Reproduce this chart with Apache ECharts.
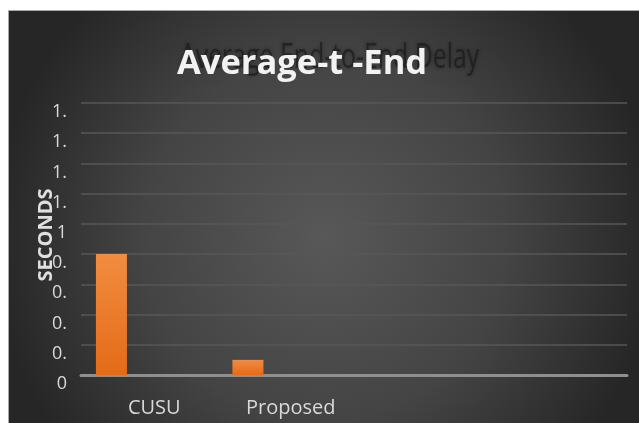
<!DOCTYPE html>
<html>
<head>
<meta charset="utf-8">
<script src="https://cdn.jsdelivr.net/npm/echarts@6/dist/echarts.min.js"></script>
<style>
html,body{margin:0;padding:0;background:#fff;}
#main{width:639px;height:423px;}
</style>
</head>
<body>
<div id="main"></div>
<script>
// ---- data ----
var categories = ['CUSU', 'Proposed', '', ''];
var delaySeries = [0.8, 0.1, null, null];
var emptySeriesA = [null, null, null, null];
var emptySeriesB = [null, null, null, null];
var yTickLabels = ['0', '0.', '0.', '0.', '0.', '1', '1.', '1.', '1.', '1.'];
var titleText = 'Average-t -End';
var ghostTitleText = 'Average End-to-End Delay';
var yAxisName = 'SECONDS';

var chart = echarts.init(document.getElementById('main'), null, {renderer: 'canvas'});

var barStyle = {
  color: {
    type: 'linear', x: 0, y: 0, x2: 0, y2: 1,
    colorStops: [
      {offset: 0, color: '#f28c40'},
      {offset: 1, color: '#e46b18'}
    ]
  }
};

var option = {
  backgroundColor: '#ffffff',
  animation: false,
  title: {
    text: titleText,
    left: 177,
    top: 47,
    padding: 0,
    textStyle: {
      fontFamily: 'Open Sans',
      fontWeight: 'bold',
      fontSize: 34.5,
      color: '#f2f2f2'
    },
    z: 10
  },
  graphic: [
    {
      type: 'rect',
      z: -100,
      silent: true,
      shape: {x: 8.5, y: 10.5, width: 632, height: 414},
      style: {
        fill: {
          type: 'radial', x: 0.5, y: 0.55, r: 0.8,
          colorStops: [
            {offset: 0, color: '#585858'},
            {offset: 0.55, color: '#444444'},
            {offset: 1, color: '#262626'}
          ]
        },
        stroke: '#a8a8a8',
        lineWidth: 1
      }
    },
    {
      type: 'text',
      z: 5,
      silent: true,
      x: 180,
      y: 41,
      scaleX: 0.71,
      style: {
        text: ghostTitleText,
        font: 'normal 35px "Open Sans"',
        fill: 'rgba(22,22,22,0.6)',
        textShadowBlur: 4,
        textShadowColor: 'rgba(0,0,0,0.6)'
      }
    }
  ],
  grid: {
    left: 81,
    right: 12,
    top: 103,
    bottom: 48,
    containLabel: false
  },
  xAxis: {
    type: 'category',
    data: categories,
    axisTick: {show: false},
    axisLine: {show: true, lineStyle: {color: '#8f8f8f', width: 3}},
    axisLabel: {
      color: '#d9d9d9',
      fontFamily: 'Open Sans',
      fontSize: 20,
      margin: 23,
      padding: [0, 0, 0, 10]
    },
    splitLine: {show: false}
  },
  yAxis: {
    type: 'value',
    min: 0,
    max: 1.8,
    interval: 0.2,
    name: yAxisName,
    nameLocation: 'middle',
    nameGap: 25,
    nameMoveOverlap: false,
    nameTextStyle: {
      color: '#e0e0e0',
      fontFamily: 'Open Sans',
      fontWeight: 'bold',
      fontSize: 20,
      padding: [0, 0, 0, 8]
    },
    axisLine: {show: false},
    axisTick: {show: false},
    axisLabel: {
      color: '#d9d9d9',
      fontFamily: 'Open Sans',
      fontSize: 18,
      margin: 14,
      verticalAlign: 'top',
      formatter: function (v, i) { return yTickLabels[i]; }
    },
    splitLine: {lineStyle: {color: '#575757', width: 1.5}}
  },
  series: [
    {type: 'bar', data: delaySeries, barWidth: 31, barGap: '22%', itemStyle: barStyle},
    {type: 'bar', data: emptySeriesA, barWidth: 31, barGap: '22%'},
    {type: 'bar', data: emptySeriesB, barWidth: 31, barGap: '22%'}
  ]
};
chart.setOption(option);
</script>
</body>
</html>
